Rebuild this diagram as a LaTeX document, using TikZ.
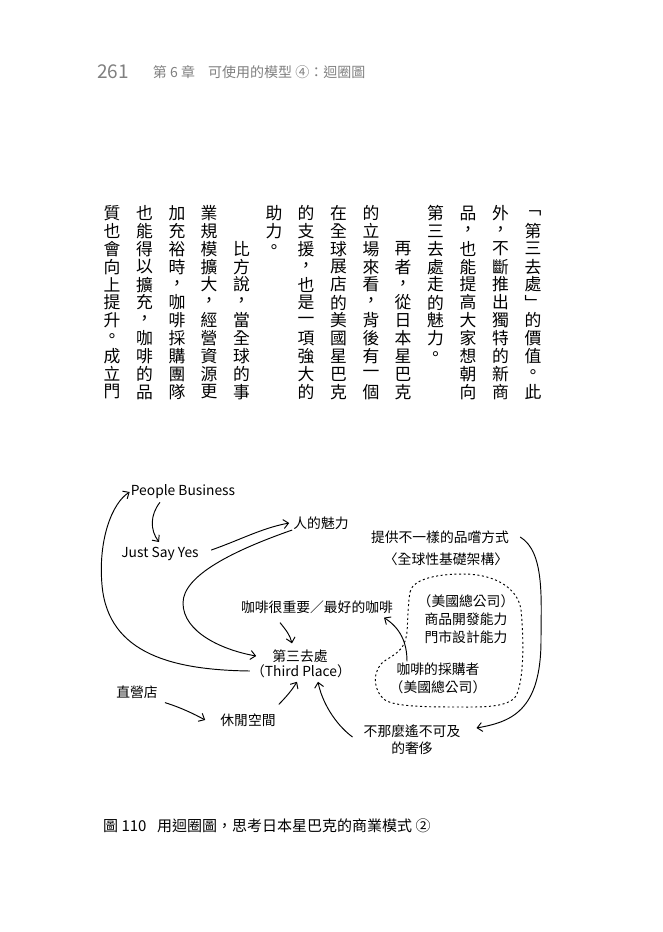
\documentclass[tikz,border=0pt]{standalone}
\usepackage{fontspec}
\setmainfont{Noto Sans CJK TC}
\usetikzlibrary{arrows.meta}
\definecolor{headgray}{HTML}{808080}
\newcommand\vcolumn[4]{%
  \foreach \ch [count=\r from #3] in {#4} {\node[vchar] (#1-\r) at (#2, 213+17.9*\r) {\ch};}}
\begin{document}
\begin{tikzpicture}[x=1pt,y=-1pt,
  vchar/.style={inner sep=0pt, font=\fontsize{16.8}{16.8}\selectfont},
  lbl/.style={inner sep=1pt, font=\fontsize{13.8}{16}\selectfont},
  head/.style={inner sep=0pt, text=headgray, font=\fontsize{14}{14}\selectfont},
  capt/.style={inner sep=0pt, font=\fontsize{15}{15}\selectfont},
  arr/.style={line width=0.95pt, -{Straight Barb[length=5pt,width=9pt]}},
  cloud/.style={line width=0.95pt, dash pattern=on 2pt off 2.6pt},
]
\fill[white] (0,0) rectangle (663,932);

% header
\node[head, font=\fontsize{19}{19}\selectfont] (pg) at (113,72) {261};
\node[head] (chap) at (174,72) {第 6 章};
\node[head, anchor=west] (title) at (208,72) {可使用的模型 ④：迴圈圖};

% vertical body text
\vcolumn{a}{533}{0}{﹁,第,三,去,處,﹂,的,價,值,。,此}
\vcolumn{b}{500.5}{0}{外,，,不,斷,推,出,獨,特,的,新,商}
\vcolumn{c}{468}{0}{品,，,也,能,提,高,大,家,想,朝,向}
\vcolumn{d}{435.5}{0}{第,三,去,處,走,的,魅,力,。}
\vcolumn{e}{403}{2}{再,者,，,從,日,本,星,巴,克}
\vcolumn{f}{371}{0}{的,立,場,來,看,，,背,後,有,一,個}
\vcolumn{g}{338.5}{0}{在,全,球,展,店,的,美,國,星,巴,克}
\vcolumn{h}{306}{0}{的,支,援,，,也,是,一,項,強,大,的}
\vcolumn{i}{274}{0}{助,力,。}
\vcolumn{j}{241.5}{2}{比,方,說,，,當,全,球,的,事}
\vcolumn{k}{209}{0}{業,規,模,擴,大,，,經,營,資,源,更}
\vcolumn{l}{177}{0}{加,充,裕,時,，,咖,啡,採,購,團,隊}
\vcolumn{m}{144.5}{0}{也,能,得,以,擴,充,，,咖,啡,的,品}
\vcolumn{n}{112}{0}{質,也,會,向,上,提,升,。,成,立,門}

% diagram labels
\node[lbl] (pb) at (183,492) {People Business};
\node[lbl] (jsy) at (160,554) {Just Say Yes};
\node[lbl] (rm) at (321,523) {人的魅力};
\node[lbl] (tp1) at (300,656) {第三去處};
\node[lbl] (tp2) at (301,671) {（Third Place）};
\node[lbl] (cof) at (317,607) {咖啡很重要／最好的咖啡};
\node[lbl] (prov1) at (440,537) {提供不一樣的品嚐方式};
\node[lbl] (prov2) at (446,559) {〈全球性基礎架構〉};
\node[lbl] (hq1) at (466,601) {（美國總公司）};
\node[lbl] (hq2) at (466,619) {商品開發能力};
\node[lbl] (hq3) at (466,637) {門市設計能力};
\node[lbl] (buy1) at (438,669) {咖啡的採購者};
\node[lbl] (buy2) at (438,687) {（美國總公司）};
\node[lbl] (lux1) at (412,731) {不那麼遙不可及};
\node[lbl] (lux2) at (412,748) {的奢侈};
\node[lbl] (store) at (137,692) {直營店};
\node[lbl] (leis) at (248,720) {休閒空間};

% dashed cloud
\draw[cloud] (410,592) .. controls (413,578) and (440,574) .. (463,574)
  .. controls (495,574) and (518,588) .. (521,610)
  .. controls (524,640) and (524,680) .. (516,696)
  .. controls (508,708) and (480,707) .. (460,707)
  .. controls (430,707) and (396,707) .. (385,700)
  .. controls (372,690) and (372,668) .. (386,660)
  .. controls (399,652) and (405,648) .. (407,632)
  .. controls (408,618) and (408,604) .. (410,592) -- cycle;

% connectors
\draw[arr] (tp2.west) .. controls (175,670) and (108,655) .. (102,585)
  .. controls (98,540) and (112,503) .. (pb.west);
\draw[arr] ([xshift=-23pt,yshift=-2pt]pb.south) .. controls (150,515) and (150,530) .. ([xshift=-1pt,yshift=4pt]jsy.north);
\draw[arr, shorten <=12pt] (jsy.east) .. controls (240,540) and (262,528) .. ([xshift=-3pt]rm.west);
\draw[arr] ([yshift=-7pt]rm.west) .. controls (235,550) and (183,575) .. (183,603)
  .. controls (183,632) and (222,650) .. ([xshift=-15pt]tp1.west);
\draw[arr] ([xshift=-37pt,yshift=-8pt]cof.south) .. controls (286,630) and (290,635) .. ([shift={(-8pt,5pt)}]tp1.north);
\draw[arr] ([xshift=10pt]prov1.east) .. controls (545,552) and (541,600) .. (541,640)
  .. controls (541,712) and (510,722) .. ([xshift=15pt,yshift=3pt]lux1.east);
\draw[arr] ([xshift=-31pt]buy1.north) .. controls (407,642) and (400,628) .. ([xshift=67pt,yshift=-3pt]cof.south);
\draw[arr] ([xshift=6pt,yshift=-3pt]store.south east) .. controls (182,708) and (194,714) .. ([xshift=-14pt]leis.west);
\draw[arr] ([shift={(2pt,8pt)}]leis.north east) .. controls (287,696) and (292,690) .. ([xshift=-4pt,yshift=-3pt]tp2.south);
\draw[arr] ([shift={(-10pt,-6pt)}]lux1.west) .. controls (335,724) and (322,702) .. ([xshift=17pt,yshift=-3pt]tp2.south);

% caption
\node[capt, anchor=west] (fignum) at (103,826) {圖 110};
\node[capt, anchor=west] (caption) at (157,826) {用迴圈圖，思考日本星巴克的商業模式 ②};
\end{tikzpicture}
\end{document}
